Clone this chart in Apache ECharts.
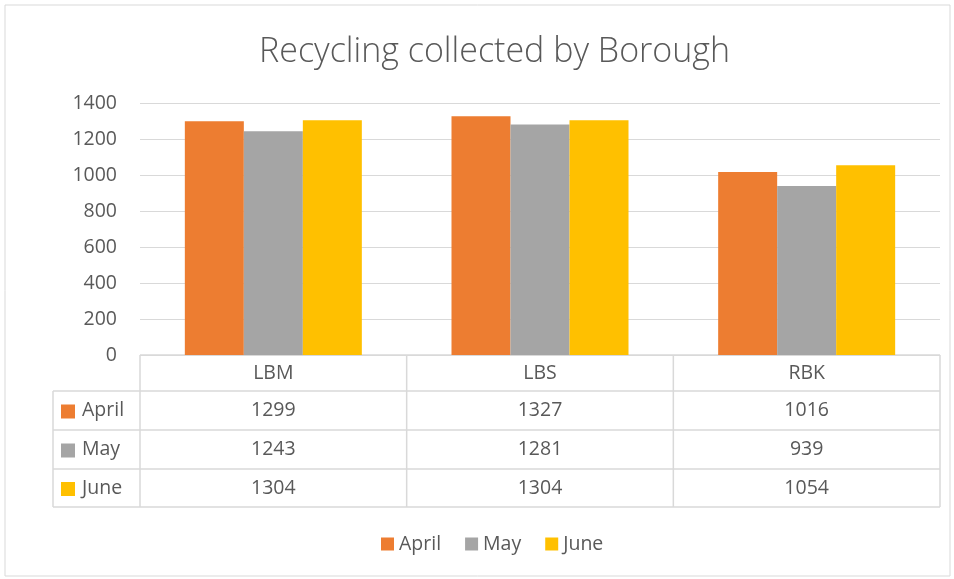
<!DOCTYPE html>
<html lang="en">
<head>
<meta charset="UTF-8" />
<title>Recycling collected by Borough</title>
<style>html,body{margin:0;padding:0;background:#fff}</style>
</head>
<body>
<div id="main" style="width:954px;height:579px"></div>
<script src="https://cdn.jsdelivr.net/npm/echarts@6/dist/echarts.min.js"></script>
<script>
var boroughs = ["LBM", "LBS", "RBK"];
var months = ["April", "May", "June"];
var april = [1299, 1327, 1016];
var may = [1243, 1281, 939];
var june = [1304, 1304, 1054];
var colors = ["#ED7D31", "#A5A5A5", "#FFC000"];

var values = [april, may, june];
var font = "Open Sans";
var textColor = "#595959";
var lineColor = "#D9D9D9";
var fs = 19.5;

// plot + table geometry
var gridLeft = 140, gridRight = 940, gridTop = 103, gridBottom = 355;
var rows = [355, 391, 430, 469, 507];
var labelLeft = 53;

var chart = echarts.init(document.getElementById("main"));

var series = months.map(function (m, i) {
  return {
    name: m,
    type: "bar",
    data: values[i],
    barWidth: 59,
    barGap: "0%",
    itemStyle: { color: colors[i] },
    emphasis: { disabled: true }
  };
});

chart.setOption({
  animation: false,
  title: {
    text: "Recycling collected by Borough",
    left: 254,
    top: 30,
    textStyle: { fontFamily: font, fontSize: 34, fontWeight: 300, color: textColor }
  },
  legend: {
    data: months,
    top: 529,
    left: 376,
    itemWidth: 13,
    itemHeight: 13,
    itemGap: 24,
    icon: "rect",
    textStyle: { fontFamily: font, fontSize: fs, color: textColor }
  },
  grid: {
    left: gridLeft,
    right: 954 - gridRight,
    top: gridTop,
    bottom: 579 - gridBottom,
    containLabel: false
  },
  xAxis: {
    type: "category",
    data: boroughs,
    axisLine: { show: false },
    axisTick: { show: false },
    axisLabel: { show: false }
  },
  yAxis: {
    type: "value",
    min: 0,
    max: 1400,
    interval: 200,
    axisLine: { show: false },
    axisTick: { show: false },
    axisLabel: {
      fontFamily: font, fontSize: fs, color: textColor, margin: 23,
      formatter: function (v) { return String(v); }
    },
    splitLine: { lineStyle: { color: lineColor, width: 1 } }
  },
  series: series
});

// data table under the plot
var g = [];
function hline(y, x1, x2) {
  g.push({ type: "line", shape: { x1: x1, y1: y, x2: x2, y2: y }, style: { stroke: lineColor, lineWidth: 1.5 } });
}
function vline(x, y1, y2) {
  g.push({ type: "line", shape: { x1: x, y1: y1, x2: x, y2: y2 }, style: { stroke: lineColor, lineWidth: 1.5 } });
}
function txt(x, y, s, align) {
  g.push({ type: "text", x: x, y: y, style: { text: s, fill: textColor, font: fs + "px '" + font + "'", textAlign: align, textVerticalAlign: "middle" } });
}

// outer chart frame
g.push({ type: "rect", shape: { x: 5, y: 5, width: 945, height: 571 }, style: { fill: "none", stroke: lineColor, lineWidth: 1 } });

hline(rows[0], gridLeft, gridRight);
for (var r = 1; r < rows.length; r++) hline(rows[r], labelLeft, gridRight);
vline(labelLeft, rows[1], rows[4]);
var colW = (gridRight - gridLeft) / boroughs.length;
for (var c = 0; c <= boroughs.length; c++) vline(gridLeft + c * colW, rows[0], rows[4]);

boroughs.forEach(function (b, j) {
  var cx = chart.convertToPixel({ xAxisIndex: 0 }, b);
  txt(cx, (rows[0] + rows[1]) / 2, b, "center");
  months.forEach(function (m, i) {
    txt(cx, (rows[i + 1] + rows[i + 2]) / 2, String(values[i][j]), "center");
  });
});
months.forEach(function (m, i) {
  var cy = (rows[i + 1] + rows[i + 2]) / 2;
  g.push({ type: "rect", shape: { x: 61, y: cy - 6, width: 14, height: 14 }, style: { fill: colors[i] } });
  txt(82, cy, m, "left");
});

chart.setOption({ graphic: g });
</script>
</body>
</html>
